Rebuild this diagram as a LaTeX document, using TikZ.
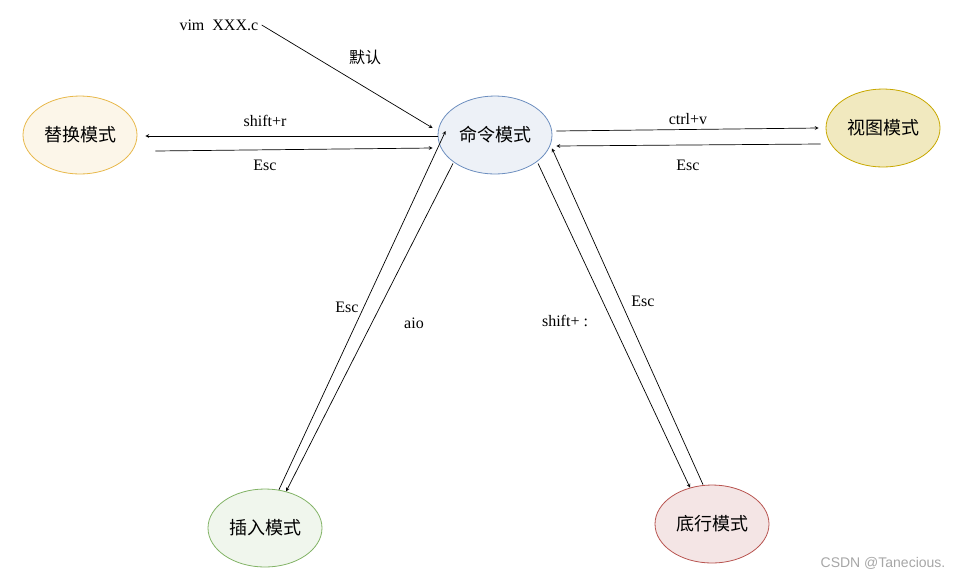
\documentclass[tikz,border=0pt]{standalone}
\usepackage{fontspec}
\setmainfont{Liberation Serif}
\newfontfamily\cjk{Noto Sans CJK SC}
\usetikzlibrary{shapes.geometric}
\definecolor{repY}{HTML}{E8B84A}
\definecolor{cmdB}{HTML}{6C8EBF}
\definecolor{visY}{HTML}{C8A800}
\definecolor{insG}{HTML}{82B366}
\definecolor{botR}{HTML}{B85450}
\tikzset{
  mode/.style={ellipse, draw, line width=0.8pt, minimum width=114pt, minimum height=78pt, font=\cjk\fontsize{18}{21}\selectfont},
  link/.style={-stealth, line width=0.7pt},
  lbl/.style={font=\fontsize{16}{18}\selectfont}
}
\begin{document}
\begin{tikzpicture}[x=1pt, y=-1pt]
    \useasboundingbox (0,0) rectangle (965,579);
    % Modes
    \node[mode, draw=repY, fill=repY!12] (REP) at (80,135) {替换模式};
    \node[mode, draw=cmdB, fill=cmdB!12] (CMD) at (495,135) {命令模式};
    \node[mode, draw=visY, fill=visY!25] (VIS) at (883,128) {视图模式};
    \node[mode, draw=insG, fill=insG!12] (INS) at (265,528) {插入模式};
    \node[mode, draw=botR, fill=botR!15] (BOT) at (712,524) {底行模式};

    % Start
    \node[lbl, anchor=west] (START) at (176,25) {vim\ \ XXX.c};
    \draw[link] (START.east) -- ([xshift=-5pt,yshift=7pt]CMD.west);
    \node[lbl, font=\cjk\fontsize{16}{18}\selectfont] (DEF) at (365,57) {默认};

    % Connections
    \draw[link] ([yshift=-1pt]CMD.west) -- ([xshift=8pt,yshift=-1pt]REP.east);
    \draw[link] ([xshift=18pt,yshift=-16pt]REP.east) -- ([xshift=-5pt,yshift=-13pt]CMD.west);
    \node[lbl] at (265,121) {shift+r};
    \node[lbl] at (265,165) {Esc};

    \draw[link] ([xshift=4pt,yshift=4pt]CMD.east) -- ([xshift=-7pt]VIS.west);
    \draw[link] ([xshift=-5pt,yshift=-16pt]VIS.west) -- ([xshift=4pt,yshift=-11pt]CMD.east);
    \node[lbl] at (688,119) {ctrl+v};
    \node[lbl] at (688,165) {Esc};

    \draw[link] (INS.70) -- ([xshift=8pt,yshift=4pt]CMD.west);
    \draw[link] ([xshift=-42pt,yshift=11pt]CMD.south) -- (INS.60);
    \node[lbl] at (347,307) {Esc};
    \node[lbl] at (414,323) {aio};

    \draw[link] ([xshift=43pt,yshift=11pt]CMD.south) -- ([xshift=-22pt,yshift=-3pt]BOT.north);
    \draw[link] ([xshift=-9pt]BOT.north) -- ([xshift=57pt,yshift=26pt]CMD.south);
    \node[lbl] at (565,321) {shift+ :};
    \node[lbl] at (643,301) {Esc};

    \node[font=\fontspec{Liberation Sans}\fontsize{14}{16}\selectfont, text=gray!70] (MARK) at (883,563) {CSDN @Tanecious.};
\end{tikzpicture}
\end{document}
